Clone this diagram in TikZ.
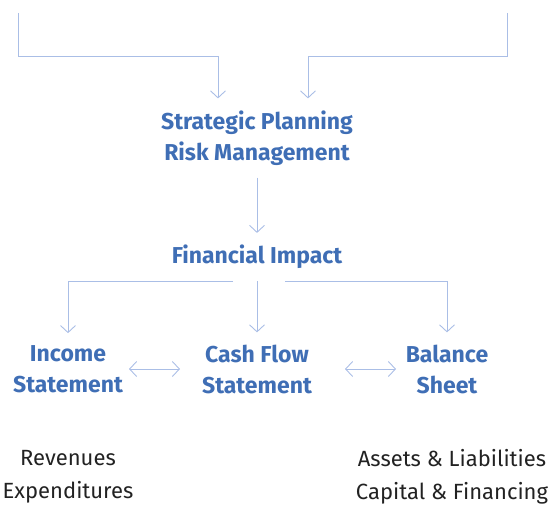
\documentclass[tikz,border=0pt]{standalone}
\usepackage{fontspec}
\setmainfont{Fira Sans}
\usepackage{xcolor}
\usetikzlibrary{arrows.meta,positioning}

\definecolor{headblue}{HTML}{3F6EB5}
\definecolor{linkblue}{HTML}{AABEE6}
\definecolor{notegray}{HTML}{222222}

\begin{document}
\begin{tikzpicture}[x=1pt, y=-1pt,
  hd/.style={align=center, text=headblue, inner xsep=2pt, inner ysep=12pt, font=\bfseries\fontsize{23}{31}\selectfont},
  nt/.style={align=center, text=notegray, inner sep=2pt, font=\fontsize{22}{33}\selectfont},
  link/.style={draw=linkblue, line width=0.9pt, -{Straight Barb[length=7pt, width=15pt]}},
  both/.style={draw=linkblue, line width=0.9pt, {Straight Barb[length=7pt, width=15pt]}-{Straight Barb[length=7pt, width=15pt]}}]
\useasboundingbox (0,0) rectangle (556,511);
% loose ends of the two feeds at the top
\coordinate (inL) at (18,13);
\coordinate (inR) at (507,13);
\node[hd] (plan) at (257,138) {Strategic Planning\\Risk Management};
\node[hd] (impact) at (257,257) {Financial Impact};
\node[hd] (income) at (68,369) {Income\\Statement};
\node[hd] (cash) at (257,369) {Cash Flow\\Statement};
\node[hd] (balance) at (447,369) {Balance\\Sheet};
\node[nt] (revenue) at (68,477) {Revenues\\Expenditures};
\node[nt] (assets) at (452,477) {Assets \& Liabilities\\Capital \& Financing};
% feeds into planning
\draw[link] (inL) -- ++(0,43) -| ([xshift=-39pt]plan.north);
\draw[link] (inR) -- ++(0,43) -| ([xshift=51pt]plan.north);
\draw[link] (plan) -- (impact);
% split towards the three statements
\draw[link] ([xshift=-24pt]impact.south) -| (income.north);
\draw[link] (impact.south) -- (cash.north);
\draw[link] ([xshift=28pt]impact.south) -| (balance.north);
\draw[both] ([xshift=61pt]income.center) -- ([xshift=-77pt]cash.center);
\draw[both] ([xshift=88pt]cash.center) -- ([xshift=-51pt]balance.center);
\end{tikzpicture}
\end{document}
